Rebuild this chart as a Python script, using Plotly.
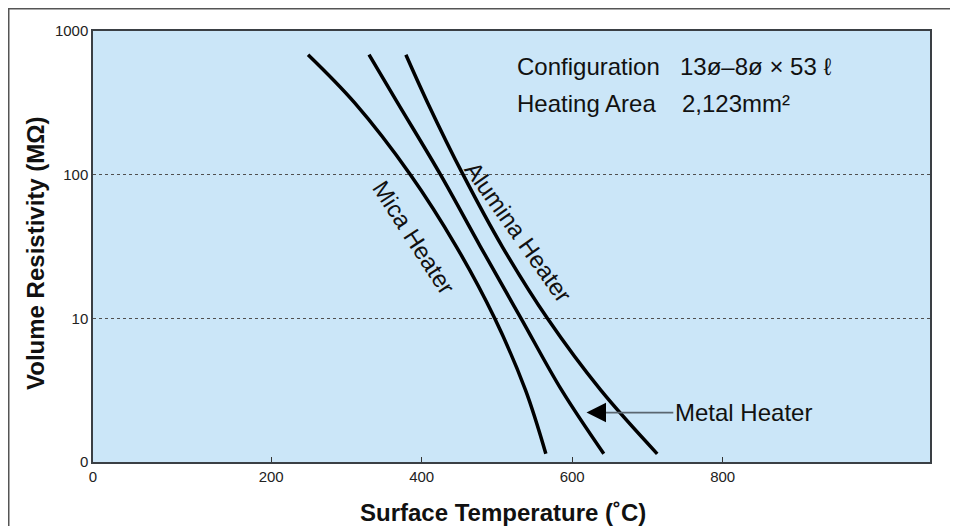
import plotly.graph_objects as go

# ---- data ----
resistivity = [684, 316, 100, 31.6, 10, 3.16, 1.14]          # MΩ, shared sample levels
mica_temp = [249, 311, 385, 446, 497, 538, 565]
metal_temp = [330, 368, 425, 478, 532, 586, 642]
alumina_temp = [379, 408, 455, 507, 567, 638, 713]

x_tick_vals = [-36.8, 200, 400, 600, 800]
x_tick_text = ["0", "200", "400", "600", "800"]
y_tick_vals = [1, 10, 100, 1000]
y_tick_text = ["0", "10", "100", "1000"]

FONT = "Liberation Sans, Arial, Helvetica, sans-serif"

fig = go.Figure()
for temps in (mica_temp, metal_temp, alumina_temp):
    fig.add_trace(go.Scatter(
        x=temps, y=resistivity, mode="lines",
        line=dict(color="black", width=3.5, shape="spline", smoothing=1.0),
        showlegend=False, hoverinfo="skip"))

W, H = 944, 530
L, R, T, B = 85, 22, 23, 76
PW, PH = W - L - R, H - T - B

fig.update_layout(
    width=W, height=H,
    margin=dict(l=L, r=R, t=T, b=B),
    paper_bgcolor="white",
    plot_bgcolor="#cbe6f8",
    font=dict(family=FONT, color="#1a1a1a"),
    showlegend=False,
)
fig.update_xaxes(
    range=[-36.8, 1075.5], tickvals=x_tick_vals, ticktext=x_tick_text,
    ticks="inside", ticklen=5, tickcolor="#333", tickwidth=1,
    showgrid=False, zeroline=False,
    showline=True, linecolor="#3a3f44", linewidth=1.5, mirror=True,
    tickfont=dict(size=15, family=FONT, color="#222"),
)
fig.update_yaxes(
    type="log", range=[0, 3], tickvals=y_tick_vals, ticktext=y_tick_text,
    ticks="", showgrid=True, gridcolor="#505050", griddash="dot", gridwidth=1.2,
    zeroline=False,
    showline=True, linecolor="#3a3f44", linewidth=1.5, mirror=True,
    tickfont=dict(size=15, family=FONT, color="#222"),
)

# outer frame at the figure edge
fig.add_shape(type="rect", xref="paper", yref="paper",
              x0=(0.75 - L) / PW, x1=(W - 0.75 - L) / PW,
              y0=-0.3, y1=(PH + T - 0.75) / PH,
              line=dict(color="#555", width=1.5), layer="above")

# axis titles
title_font = dict(size=24, family=FONT, color="#111")
fig.add_annotation(xref="paper", yref="paper", x=0.4898, y=-0.1183,
                   text="<b>Surface Temperature (˚C)</b>", showarrow=False,
                   xanchor="center", yanchor="middle", font=title_font)
fig.add_annotation(xref="paper", yref="paper", x=-0.0681, y=0.485,
                   text="<b>Volume Resistivity (MΩ)</b>", showarrow=False,
                   textangle=-90, xanchor="center", yanchor="middle",
                   font=title_font)

# info text
info_font = dict(size=24, family=FONT, color="#111")
fig.add_annotation(xref="paper", yref="paper", x=0.5042, y=0.917,
                   text="Configuration", showarrow=False,
                   xanchor="left", yanchor="middle", font=info_font)
fig.add_annotation(xref="paper", yref="paper", x=0.699, y=0.917,
                   text="13ø–8ø × 53 ℓ", showarrow=False,
                   xanchor="left", yanchor="middle", font=info_font)
fig.add_annotation(xref="paper", yref="paper", x=0.5042, y=0.831,
                   text="Heating Area", showarrow=False,
                   xanchor="left", yanchor="middle", font=info_font)
fig.add_annotation(xref="paper", yref="paper", x=0.7013, y=0.831,
                   text="2,123mm²", showarrow=False,
                   xanchor="left", yanchor="middle", font=info_font)

# curve labels
fig.add_annotation(x=389.5, y=1.5625, xref="x", yref="y",
                   text="Mica Heater", showarrow=False, textangle=57,
                   xanchor="center", yanchor="middle", font=info_font)
fig.add_annotation(x=528, y=1.606, xref="x", yref="y",
                   text="Alumina Heater", showarrow=False, textangle=54.6,
                   xanchor="center", yanchor="middle", font=info_font)

# metal heater label: grey leader line + black arrow head
fig.add_annotation(x=644, y=0.344, xref="x", yref="y",
                   ax=68, ay=0, axref="pixel", ayref="pixel",
                   text="Metal Heater", showarrow=True,
                   arrowhead=0, arrowwidth=1.6, arrowcolor="#5a6670",
                   standoff=0, xanchor="left", yanchor="middle", font=info_font)
fig.add_annotation(x=619, y=0.344, xref="x", yref="y",
                   ax=20, ay=0, axref="pixel", ayref="pixel",
                   text=" ", showarrow=True,
                   arrowhead=2, arrowsize=2.6, arrowwidth=1.5,
                   arrowcolor="black", standoff=0, font=dict(size=2))

fig.write_html("out.html")
